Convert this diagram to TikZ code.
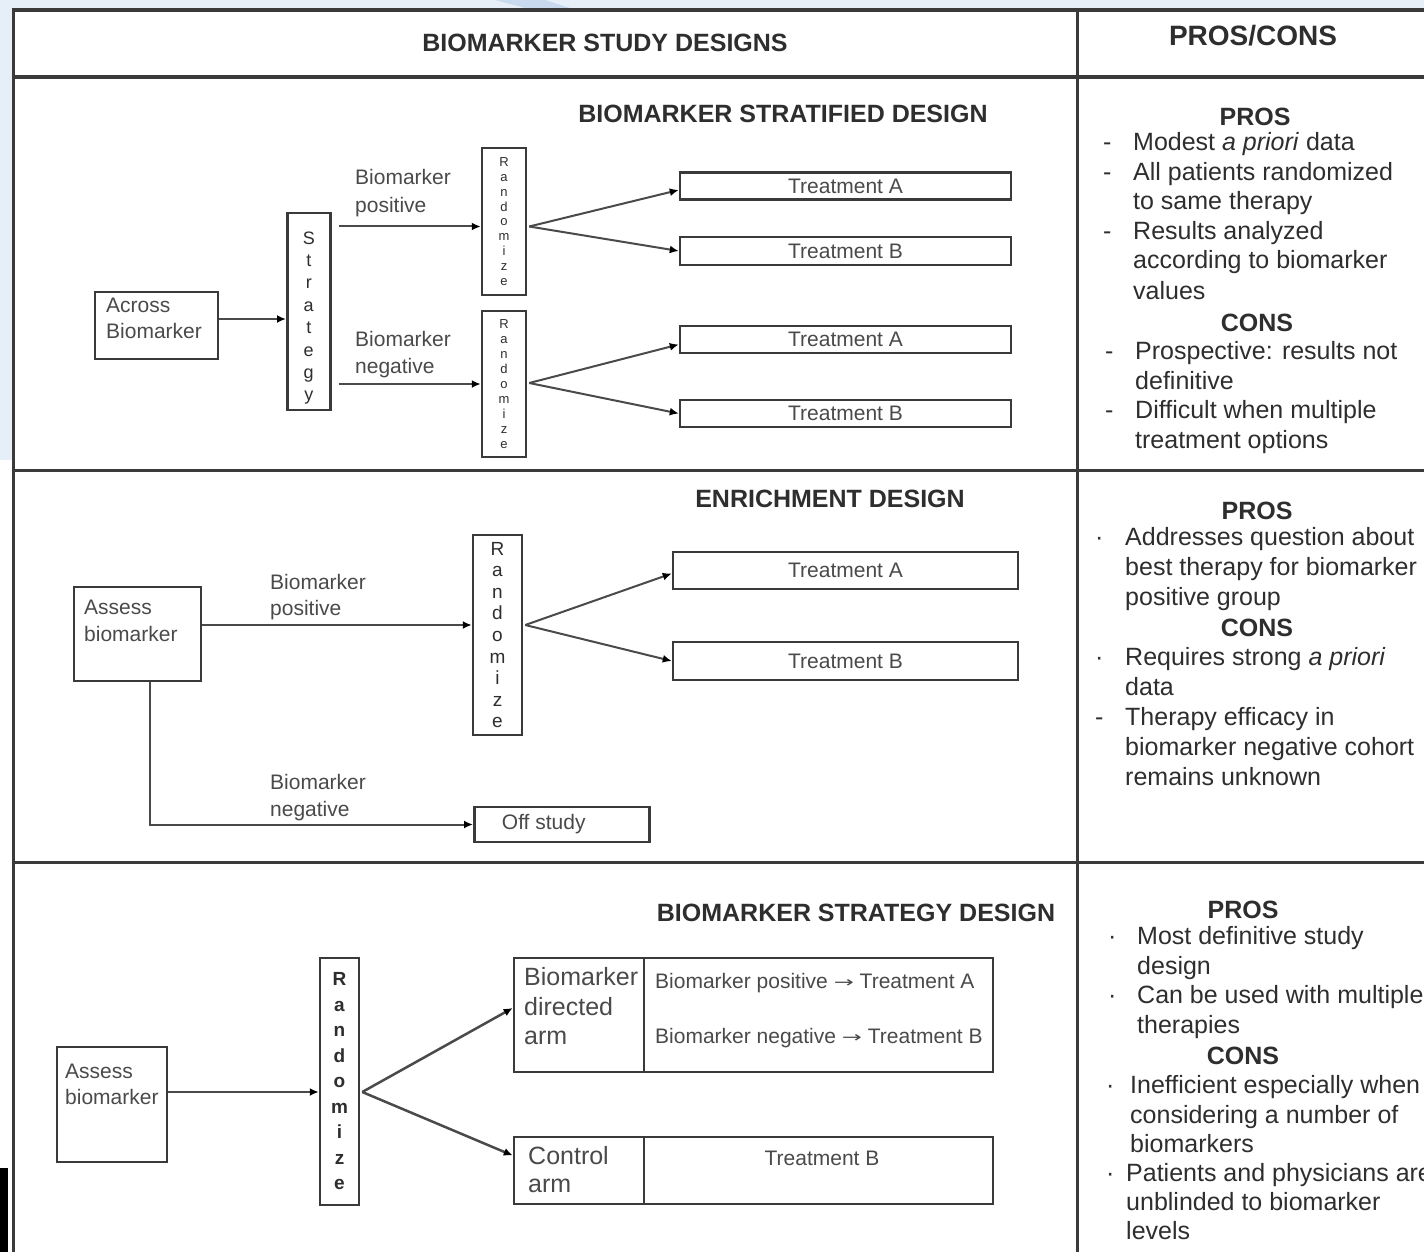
\documentclass[tikz,border=0pt]{standalone}
\usepackage{graphicx}
\usepackage{fontspec}
\setmainfont{Liberation Sans}
\newfontfamily\dejavu{DejaVu Sans}
\usetikzlibrary{arrows.meta,calc}
\definecolor{lc}{HTML}{3A3A3A}
\definecolor{tc}{HTML}{2E2E2E}
\definecolor{dc}{HTML}{4A4A4A}
\definecolor{wm}{HTML}{E6EEF8}
\definecolor{wmd}{HTML}{C9DAEE}
\newcommand\fTitle{\fontsize{25}{30}\selectfont\bfseries}
\newcommand\fBody{\fontsize{25}{30}\selectfont}
\newcommand\fDiag{\fontsize{21}{26}\selectfont}
\newcommand\fArm{\fontsize{25}{30}\selectfont}
\newcommand\rarr{{\dejavu\fontsize{15}{15}\selectfont\raisebox{1pt}{\scalebox{1.6}[1]{→}}}}
\begin{document}
\begin{tikzpicture}[x=1pt,y=-1pt,
  tbl/.style={draw=lc,line width=3pt},
  box/.style={draw=lc,line width=2.5pt,inner sep=0pt,rectangle,font=\fDiag,text=dc},
  arr/.style={draw=dc,line width=2pt,-{Latex[length=9pt,width=8pt,color=black]}},
  ttl/.style={font=\fTitle,text=tc,anchor=base,inner sep=0pt},
  pc/.style={font=\fBody,text=tc,anchor=base west,inner sep=0pt},
  lbl/.style={font=\fDiag,text=dc,anchor=base west,inner sep=0pt},
  arm/.style={font=\fArm,text=dc,anchor=base west,inner sep=0pt}
]
\useasboundingbox (0,0) rectangle (1424,1252);
\clip (0,0) rectangle (1424,1252);
\fill[white] (0,0) rectangle (1424,1252);
% faint watermark outside the table
\fill[wm] (0,0) rectangle (1424,8);
\fill[wm] (0,0) rectangle (12,460);
\fill[wmd] (495,0) -- (545,0) -- (570,8) -- (525,8) -- cycle;
\fill[black] (0,1168) rectangle (8,1252);
% table
\draw[tbl,line width=4pt] (12,10) -- (1424,10);
\draw[tbl,line width=4pt] (12,77) -- (1424,77);
\draw[tbl] (12,470) -- (1424,470);
\draw[tbl] (12,862) -- (1424,862);
\draw[tbl] (13,8) -- (13,1252);
\draw[tbl] (1077,8) -- (1077,1252);
% headers
\node[ttl] (hd1) at (605,52) {BIOMARKER STUDY DESIGNS};
\node[ttl,font=\fontsize{28}{32}\selectfont\bfseries] (hd2) at (1253,46) {PROS/CONS};

% ===== Section 1: stratified =====
\node[ttl] (t1) at (783,123) {BIOMARKER STRATIFIED DESIGN};
\node[box,minimum width=123pt,minimum height=67pt] (across) at (156.5,325.5) {};
\node[lbl] (acrossA) at (106,312) {Across};
\node[lbl] (acrossB) at (106,338) {Biomarker};
\node[box,minimum width=43pt,minimum height=197pt] (strat) at (308.75,311.5) {};
\node[align=center,inner sep=0pt,text=tc,font=\fontsize{18}{22.4}\selectfont] (stratL) at (308.75,318) {S\\t\\r\\a\\t\\e\\g\\y};
\node[box,minimum width=44pt,minimum height=147pt,align=center,text=tc,font=\fontsize{13}{14.9}\selectfont] (rand1) at (504,221.5) {R\\a\\n\\d\\o\\m\\i\\z\\e};
\node[box,minimum width=44pt,minimum height=146pt,align=center,text=tc,font=\fontsize{13}{14.9}\selectfont] (rand2) at (504,384) {R\\a\\n\\d\\o\\m\\i\\z\\e};
\node[lbl] (pos1a) at (355,185) {Biomarker};
\node[lbl] (pos1b) at (355,212) {positive};
\node[lbl] (neg1a) at (355,346) {Biomarker};
\node[lbl] (neg1b) at (355,373) {negative};
\node[box,minimum width=331pt,minimum height=27pt] (ta1) at (845.5,186) {Treatment A};
\node[box,minimum width=331pt,minimum height=28pt] (tb1) at (845.5,251) {Treatment B};
\node[box,minimum width=331pt,minimum height=27pt] (ta2) at (845.5,339.5) {Treatment A};
\node[box,minimum width=331pt,minimum height=27pt] (tb2) at (845.5,413.5) {Treatment B};
\draw[arr] ($(across.east)+(0,-6.5)$) -- ($(strat.west)+(0,7.5)$);
\draw[arr] ($(strat.east|-rand1.west)+(7,5)$) -- ($(rand1.west)+(0,5)$);
\draw[arr] ($(strat.east|-rand2.west)+(7,0)$) -- (rand2.west);
\draw[arr] ($(rand1.east)+(2,5)$) -- ($(ta1.west)+(0,4)$);
\draw[arr] ($(rand1.east)+(2,5)$) -- (tb1.west);
\draw[arr] ($(rand2.east)+(2,-1)$) -- ($(ta2.west)+(0,5)$);
\draw[arr] ($(rand2.east)+(2,-1)$) -- (tb2.west);

% ===== Section 2: enrichment =====
\node[ttl] (t2) at (830,507) {ENRICHMENT DESIGN};
\node[box,minimum width=127pt,minimum height=94pt] (as2) at (137.5,634) {};
\node[lbl] (as2a) at (84,614) {Assess};
\node[lbl] (as2b) at (84,641) {biomarker};
\node[box,minimum width=49pt,minimum height=200pt,align=center,text=tc,font=\fontsize{19}{21.6}\selectfont] (randE) at (497.5,635) {R\\a\\n\\d\\o\\m\\i\\z\\e};
\node[lbl] (pos2a) at (270,589) {Biomarker};
\node[lbl] (pos2b) at (270,615) {positive};
\node[lbl] (neg2a) at (270,789) {Biomarker};
\node[lbl] (neg2b) at (270,816) {negative};
\node[box,minimum width=345pt,minimum height=37pt] (taE) at (845.5,570.5) {Treatment A};
\node[box,minimum width=345pt,minimum height=38pt] (tbE) at (845.5,661) {Treatment B};
\node[box,minimum width=175pt,minimum height=35pt,anchor=west] (off) at (473,824.5) {\hspace*{-36pt}Off study};
\draw[arr] ($(as2.east)+(0,-9)$) -- ($(randE.west)+(0,-10)$);
\draw[arr] ($(randE.east)+(2,-10)$) -- ($(taE.west)+(0,3)$);
\draw[arr] ($(randE.east)+(2,-10)$) -- (tbE.west);
\draw[arr] ($(as2.south)+(12.5,0)$) |- (off.west);

% ===== Section 3: strategy =====
\node[ttl] (t3) at (856,921) {BIOMARKER STRATEGY DESIGN};
\node[box,minimum width=110pt,minimum height=115pt] (as3) at (112,1104.5) {};
\node[lbl] (as3a) at (65,1078) {Assess};
\node[lbl] (as3b) at (65,1104) {biomarker};
\node[box,minimum width=39pt,minimum height=247pt,align=center,text=tc,font=\fontsize{19}{25.5}\selectfont\bfseries] (randS) at (339.5,1081.5) {R\\a\\n\\d\\o\\m\\i\\z\\e};
\node[box,minimum width=479pt,minimum height=114pt] (dir) at (753.5,1015) {};
\node[box,minimum width=479pt,minimum height=67pt] (ctl) at (753.5,1170.5) {};
\draw[draw=lc,line width=2.5pt] ($(dir.north west)+(131,0)$) -- ($(dir.south west)+(131,0)$);
\draw[draw=lc,line width=2.5pt] ($(ctl.north west)+(131,0)$) -- ($(ctl.south west)+(131,0)$);
\node[arm] (dira) at (524,985) {Biomarker};
\node[arm] (dirb) at (524,1015) {directed};
\node[arm] (dirc) at (524,1044) {arm};
\node[lbl] (dird) at (655,988) {Biomarker positive \rarr\ Treatment A};
\node[lbl] (dire) at (655,1043) {Biomarker negative \rarr\ Treatment B};
\node[arm] (ctla) at (528,1164) {Control};
\node[arm] (ctlb) at (528,1192) {arm};
\node[lbl,anchor=base] (ctlc) at (822,1165) {Treatment B};
\draw[arr,line width=2.5pt] ($(as3.east)+(0,-12.5)$) -- ($(randS.west)+(0,10.5)$);
\draw[arr,line width=2.5pt] ($(randS.east)+(2,10.5)$) -- ($(dir.west)+(0,-7)$);
\draw[arr,line width=2.5pt] ($(randS.east)+(2,10.5)$) -- ($(ctl.west)+(0,-15)$);

% ===== Pros/cons 1 =====
\node[ttl] (p1) at (1255,126) {PROS};
\node[pc] (p1b1) at (1103,151) {-};
\node[pc] (p1l1) at (1133,151) {Modest \emph{a priori} data};
\node[pc] (p1b2) at (1103,181) {-};
\node[pc] (p1l2) at (1133,181) {All patients randomized};
\node[pc] (p1l3) at (1133,210) {to same therapy};
\node[pc] (p1b3) at (1103,240) {-};
\node[pc] (p1l4) at (1133,240) {Results analyzed};
\node[pc] (p1l5) at (1133,269) {according to biomarker};
\node[pc] (p1l6) at (1133,299) {values};
\node[ttl] (c1) at (1257,331) {CONS};
\node[pc] (c1b1) at (1105,359) {-};
\node[pc] (c1l1) at (1135,359) {Prospective: results not};
\node[pc] (c1l2) at (1135,389) {definitive};
\node[pc] (c1b2) at (1105,418) {-};
\node[pc] (c1l3) at (1135,418) {Difficult when multiple};
\node[pc] (c1l4) at (1135,448) {treatment options};

% ===== Pros/cons 2 =====
\node[ttl] (p2) at (1257,519) {PROS};
\node[pc] (p2b1) at (1095,545) {·};
\node[pc] (p2l1) at (1125,545) {Addresses question about};
\node[pc] (p2l2) at (1125,575) {best therapy for biomarker};
\node[pc] (p2l3) at (1125,605) {positive group};
\node[ttl] (c2) at (1257,636) {CONS};
\node[pc] (c2b1) at (1095,665) {·};
\node[pc] (c2l1) at (1125,665) {Requires strong \emph{a priori}};
\node[pc] (c2l2) at (1125,695) {data};
\node[pc] (c2b2) at (1095,725) {-};
\node[pc] (c2l3) at (1125,725) {Therapy efficacy in};
\node[pc] (c2l4) at (1125,755) {biomarker negative cohort};
\node[pc] (c2l5) at (1125,785) {remains unknown};

% ===== Pros/cons 3 =====
\node[ttl] (p3) at (1243,918) {PROS};
\node[pc] (p3b1) at (1108,944) {·};
\node[pc] (p3l1) at (1137,944) {Most definitive study};
\node[pc] (p3l2) at (1137,974) {design};
\node[pc] (p3b2) at (1108,1003) {·};
\node[pc] (p3l3) at (1137,1003) {Can be used with multiple};
\node[pc] (p3l4) at (1137,1033) {therapies};
\node[ttl] (c3) at (1243,1064) {CONS};
\node[pc] (c3b1) at (1106,1093) {·};
\node[pc] (c3l1) at (1130,1093) {Inefficient especially when};
\node[pc] (c3l2) at (1130,1123) {considering a number of};
\node[pc] (c3l3) at (1130,1152) {biomarkers};
\node[pc] (c3b2) at (1106,1181) {·};
\node[pc] (c3l4) at (1126,1181) {Patients and physicians are};
\node[pc] (c3l5) at (1126,1210) {unblinded to biomarker};
\node[pc] (c3l6) at (1126,1239) {levels};
\end{tikzpicture}
\end{document}
